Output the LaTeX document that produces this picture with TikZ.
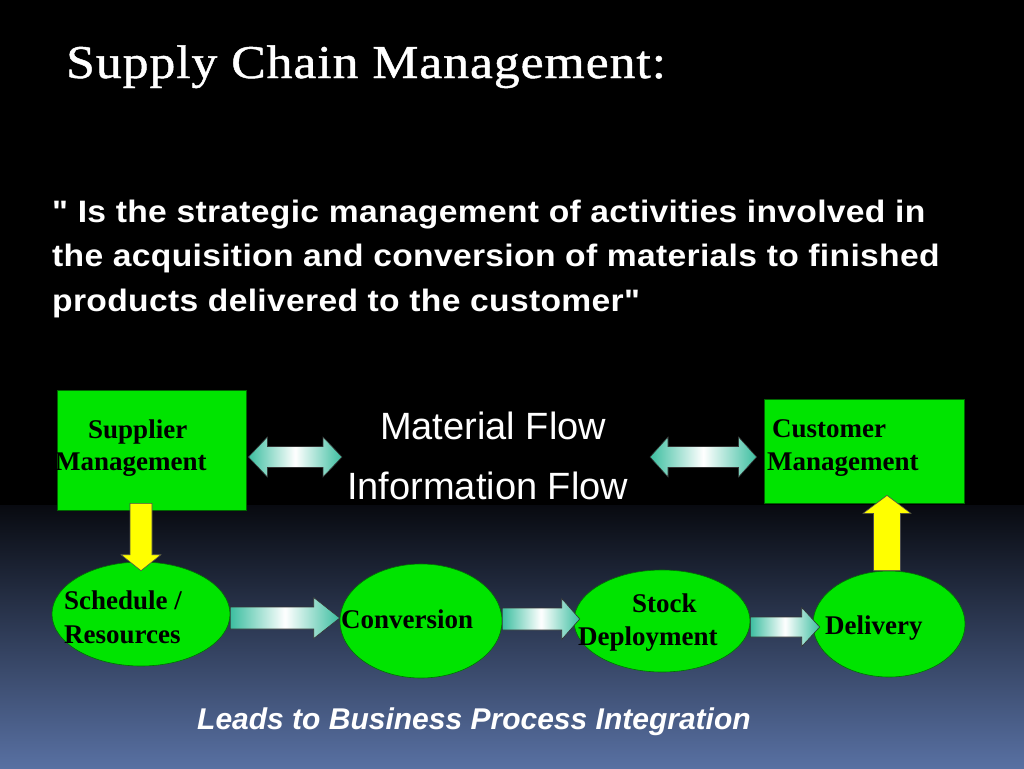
\documentclass[tikz,border=0pt]{standalone}
\usepackage{fontspec}
\setmainfont{Liberation Serif}
\setsansfont{Liberation Sans}
\newfontfamily\titlefont[LetterSpace=2,FakeStretch=1.1,FakeBold=1]{Liberation Serif}
\newfontfamily\bodyfont[FakeStretch=1.085,LetterSpace=1]{Liberation Sans}
\usetikzlibrary{calc,positioning,shapes.geometric}
\definecolor{boxgreen}{RGB}{0,228,0}
\definecolor{flowteal}{RGB}{60,190,160}
\definecolor{bgblue}{RGB}{88,112,162}
\definecolor{bgdark}{RGB}{8,10,16}
\definecolor{arrowyellow}{RGB}{255,255,0}

\newcommand\blockarrow[6]{%
  \coordinate (hb) at ($(#3)!#6pt!(#2)$);
  \path[#1] ($(#2)!#4pt!90:(#3)$) -- ($(hb)!#4pt!90:(#3)$) -- ($(hb)!#5pt!90:(#3)$) -- (#3)
    -- ($(hb)!#5pt!-90:(#3)$) -- ($(hb)!#4pt!-90:(#3)$) -- ($(#2)!#4pt!-90:(#3)$) -- cycle;}
\newcommand\dblarrow[6]{%
  \coordinate (ha) at ($(#2)!#6pt!(#3)$);
  \coordinate (hb) at ($(#3)!#6pt!(#2)$);
  \path[#1] (#2) -- ($(ha)!#5pt!90:(#3)$) -- ($(ha)!#4pt!90:(#3)$) -- ($(hb)!#4pt!90:(#3)$)
    -- ($(hb)!#5pt!90:(#3)$) -- (#3) -- ($(hb)!#5pt!-90:(#3)$) -- ($(hb)!#4pt!-90:(#3)$)
    -- ($(ha)!#4pt!-90:(#3)$) -- ($(ha)!#5pt!-90:(#3)$) -- cycle;}

\begin{document}
\begin{tikzpicture}[x=1pt,y=-1pt,
    every node/.style={inner sep=0pt},
    mgmt/.style={draw=green!40!black,line width=0.8pt,fill=boxgreen,rectangle},
    stage/.style={draw=green!45!black,line width=0.6pt,fill=boxgreen,ellipse},
    boxtext/.style={anchor=base west,text=black,font=\fontsize{27}{31}\selectfont\bfseries},
    bodytext/.style={anchor=base west,text=white,font=\bodyfont\fontsize{31}{36}\selectfont\bfseries},
    flowtext/.style={anchor=base west,text=white,font=\fontsize{38}{44}\selectfont\sffamily},
    flow/.style={draw=black!80,line width=0.6pt,left color=flowteal,right color=flowteal,middle color=white},
    lift/.style={draw=black!70,line width=0.6pt,fill=arrowyellow}]
\fill[black] (0,0) rectangle (1024,768);
\shade[top color=bgdark,bottom color=bgblue] (0,505) rectangle (1024,768);

\node[anchor=base west,text=white,font=\titlefont\fontsize{47}{56}\selectfont] (title) at (66,78) {Supply Chain Management:};
\node[bodytext] (def1) at (52,222) {\symbol{34} Is the strategic management of activities involved in};
\node[bodytext] (def2) at (52,266) {the acquisition and conversion of materials to finished};
\node[bodytext] (def3) at (52,311) {products delivered to the customer\symbol{34}};

\node[mgmt,minimum width=189,minimum height=120] (supp) at (151.5,450) {};
\node[mgmt,minimum width=200,minimum height=104] (cust) at (864,451) {};
\node[stage,minimum width=178,minimum height=104] (sched) at (141,614) {};
\node[stage,minimum width=162,minimum height=114] (conv) at (421,621) {};
\node[stage,minimum width=176,minimum height=102] (stock) at (662,621) {};
\node[stage,minimum width=152,minimum height=106] (deliv) at (889,624) {};

\node[boxtext] (suppA) at (88,438) {Supplier};
\node[boxtext] (suppB) at (55,470) {Management};
\node[boxtext] (custA) at (772,437) {Customer};
\node[boxtext] (custB) at (767,470) {Management};
\node[boxtext] (schedA) at (64,609) {Schedule /};
\node[boxtext] (schedB) at (64,643) {Resources};
\node[boxtext] (convA) at (341,628) {Conversion};
\node[boxtext] (stockA) at (632,612) {Stock};
\node[boxtext] (stockB) at (578,645) {Deployment};
\node[boxtext] (delivA) at (825,634) {Delivery};

\node[flowtext] (matflow) at (380,439) {Material Flow};
\node[flowtext] (infoflow) at (347,499) {Information Flow};
\node[anchor=base west,text=white,font=\fontsize{30}{34}\selectfont\sffamily\bfseries\itshape] (leads) at (197,729) {Leads to Business Process Integration};

\coordinate (lfa) at ([xshift=2,yshift=-7]supp.east);
\coordinate (lfb) at (342,457);
\coordinate (rfa) at (650,457);
\coordinate (rfb) at ([xshift=-7,yshift=-6]cust.west);
\dblarrow{flow}{lfa}{lfb}{10.5}{20}{19}
\dblarrow{flow}{rfa}{rfb}{10.5}{20}{18}

\coordinate (s1) at ([yshift=-4]sched.east);
\coordinate (t1) at ([yshift=3]conv.west);
\coordinate (s2) at ([yshift=2]conv.east);
\coordinate (t2) at ([xshift=6,yshift=2]stock.west);
\coordinate (s3) at ([yshift=-6]stock.east);
\coordinate (t3) at ([xshift=7,yshift=-3]deliv.west);
\blockarrow{flow}{s1}{t1}{11}{20.5}{26}
\blockarrow{flow}{s2}{t2}{11}{20.5}{18}
\blockarrow{flow}{s3}{t3}{10}{19.5}{18}

\coordinate (s4) at ([xshift=-10.5,yshift=7]supp.south);
\coordinate (t4) at ([yshift=-9]sched.north);
\coordinate (s5) at ([xshift=-2]deliv.north);
\coordinate (t5) at ([xshift=23,yshift=8]cust.south);
\blockarrow{lift}{s4}{t4}{11}{20}{16}
\blockarrow{lift}{s5}{t5}{13.5}{24}{18}
\end{tikzpicture}
\end{document}
